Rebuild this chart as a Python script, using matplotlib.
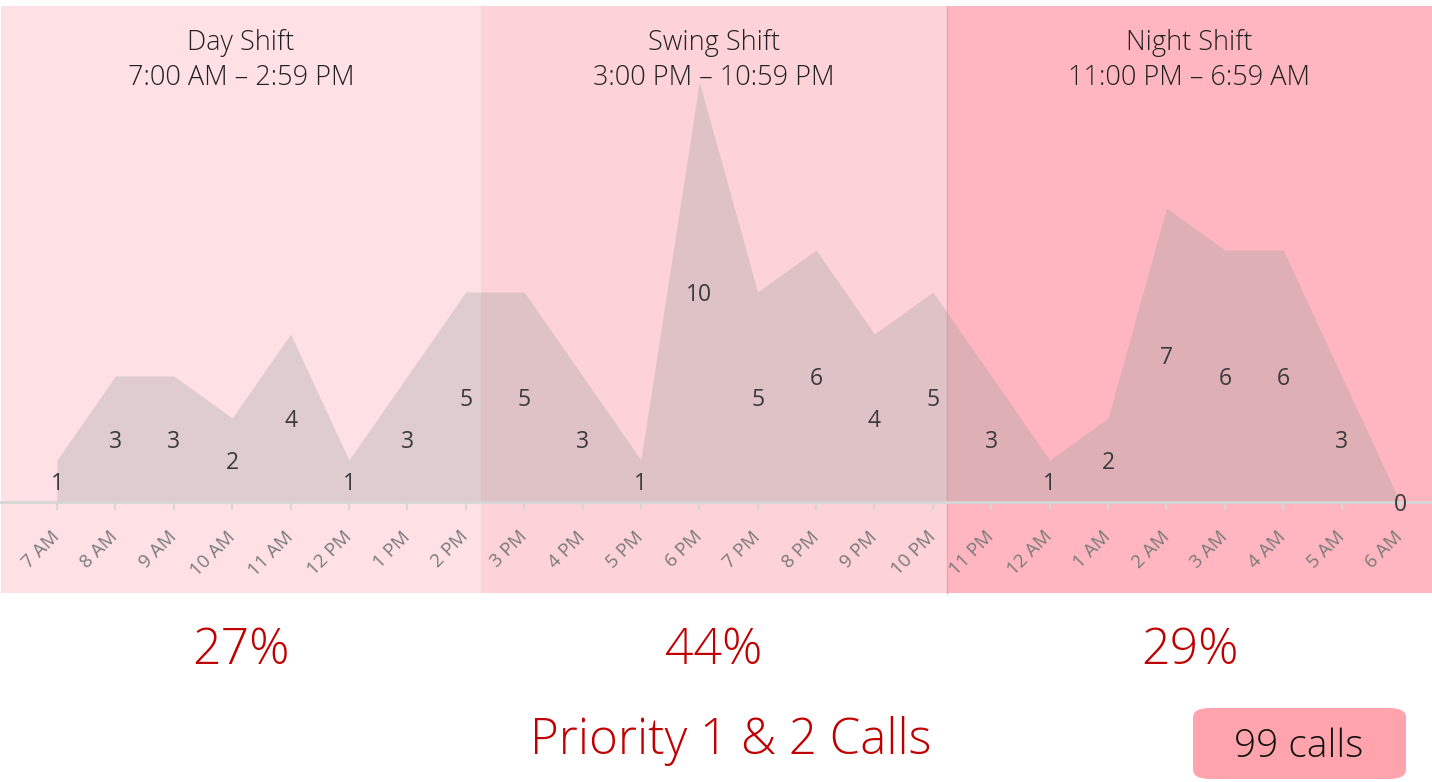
import matplotlib
matplotlib.use("Agg")
import matplotlib.pyplot as plt
from matplotlib.patches import Rectangle, FancyBboxPatch

plt.rcParams["font.family"] = ["Open Sans", "DejaVu Sans"]

HOURS = ["7 AM", "8 AM", "9 AM", "10 AM", "11 AM", "12 PM", "1 PM", "2 PM",
         "3 PM", "4 PM", "5 PM", "6 PM", "7 PM", "8 PM", "9 PM", "10 PM",
         "11 PM", "12 AM", "1 AM", "2 AM", "3 AM", "4 AM", "5 AM", "6 AM"]
CALLS = [1, 3, 3, 2, 4, 1, 3, 5,
         5, 3, 1, 10, 5, 6, 4, 5,
         3, 1, 2, 7, 6, 6, 3, 0]
SHIFTS = ["Day Shift", "Swing Shift", "Night Shift"]
SHIFT_HOURS = ["7:00 AM \u2013 2:59 PM", "3:00 PM \u2013 10:59 PM", "11:00 PM \u2013 6:59 AM"]
SHIFT_PCT = ["27%", "44%", "29%"]
TOTAL = "99 calls"
TITLE = "Priority 1 & 2 Calls"

W, H = 1432, 782
BAND_EDGES = [1, 481, 947, 1432]          # px
BAND_COLORS = ["#ffe1e5", "#fdd2d8", "#ffb6c0"]
BAND_TOP, BAND_BOT = 6, 593               # px from top
RED = "#c00000"

fig = plt.figure(figsize=(W / 100, H / 100), dpi=100)


def fx(px):
    return px / W


def fy(py):
    return 1 - py / H


# shift bands
for i, c in enumerate(BAND_COLORS):
    r = Rectangle((fx(BAND_EDGES[i]), fy(BAND_BOT)),
                  fx(BAND_EDGES[i + 1] - BAND_EDGES[i]), (BAND_BOT - BAND_TOP) / H,
                  transform=fig.transFigure, color=c, lw=0, zorder=-2)
    fig.add_artist(r)
fig.add_artist(plt.Line2D([fx(947), fx(947)], [fy(BAND_BOT), fy(BAND_TOP)],
                          transform=fig.transFigure, color="#eea3ad", lw=1, zorder=-1))

# axes mapped so index 0 -> x=57px, index 23 -> x=1400px, baseline at y=502px
x0, x1 = 57, 1400
dx = (x1 - x0) / (len(CALLS) - 1)
base, unit = 502, (502 - 82) / 10
ax = fig.add_axes([0, 0, 1, 1])
ax.set_xlim(-x0 / dx, (W - x0) / dx)
ax.set_ylim(-(H - base) / unit, base / unit)
ax.patch.set_visible(False)

xs = list(range(len(CALLS)))
ax.fill_between(xs, CALLS, 0, color="#a4a4a4", alpha=0.34, lw=0, zorder=2)
for x, v in zip(xs, CALLS):
    ax.annotate(str(v), (x, v / 2), xytext=(0, -2), textcoords="offset points",
                ha="center", va="center", fontsize=16.5, color="#3a3a3a", zorder=3)

for s in ["top", "right", "left"]:
    ax.spines[s].set_visible(False)
ax.spines["bottom"].set_position(("data", 0))
ax.spines["bottom"].set_color("#d6d6d6")
ax.spines["bottom"].set_linewidth(2)
ax.set_yticks([])
ax.set_xticks(xs)
ax.set_xticklabels(HOURS, rotation=45, ha="right", va="center",
                   rotation_mode="anchor", fontsize=13.5, color="#7a7a7a")
ax.tick_params(axis="x", length=6, width=1.5, color="#d6d6d6", pad=17)

# shift headings and shares
for i in range(3):
    cx = fx((BAND_EDGES[i] + BAND_EDGES[i + 1]) / 2)
    fig.text(cx, fy(43), SHIFTS[i], ha="center", va="center", fontsize=19.5,
             color="#222222", fontweight="light")
    fig.text(cx, fy(78), SHIFT_HOURS[i], ha="center", va="center", fontsize=19.5,
             color="#222222", fontweight="light")
    fig.text(cx, fy(651), SHIFT_PCT[i], ha="center", va="center", fontsize=36,
             color=RED, fontweight="light")

fig.text(fx(731), fy(741), TITLE, ha="center", va="center", fontsize=35.5,
         color=RED, fontweight="light")

badge = FancyBboxPatch((fx(1193), fy(779)), fx(1406 - 1193), (779 - 708) / H,
                       boxstyle="round,pad=0,rounding_size=0.012",
                       transform=fig.transFigure, facecolor="#ffa4ad", lw=0)
fig.add_artist(badge)
fig.text(fx(1299), fy(747), TOTAL, ha="center", va="center", fontsize=28,
         color="#111111", fontweight="light")

fig.savefig("out.png", dpi=100)
